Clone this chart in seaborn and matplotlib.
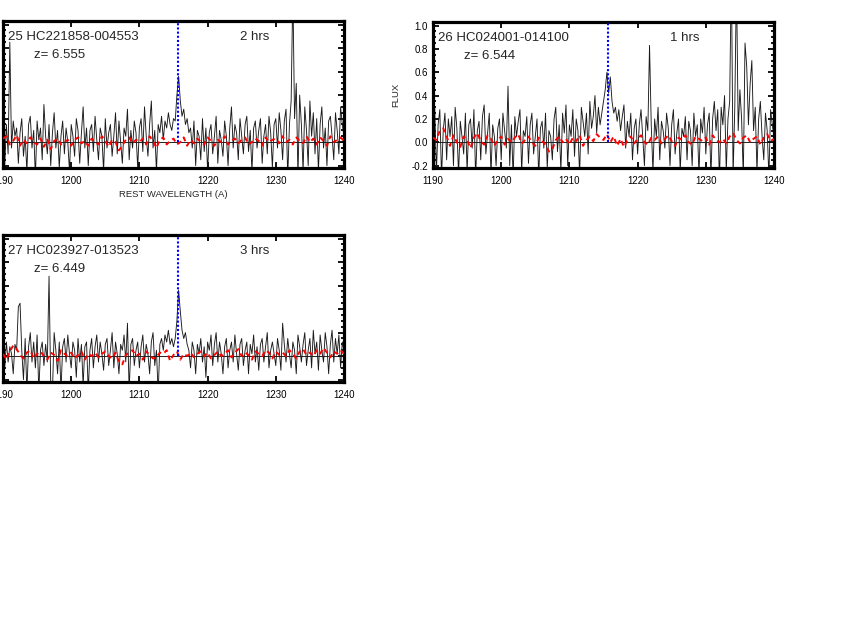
import numpy as np
import pandas as pd
import matplotlib
matplotlib.use("Agg")
import matplotlib.pyplot as plt
from matplotlib.ticker import MultipleLocator
import seaborn as sns

sns.set_theme(style="ticks")
plt.rcParams["font.family"] = ["Liberation Sans", "DejaVu Sans"]

# rest wavelength grid (A), 0.25 A steps for flux, 0.5 A for noise
wave = np.arange(1190.0, 1240.001, 0.25)
wave_err = np.arange(1190.0, 1240.001, 0.5)
LYA = 1215.67

names = ["25 HC221858-004553", "26 HC024001-014100", "27 HC023927-013523"]
redshifts = ["z= 6.555", "z= 6.544", "z= 6.449"]
exposures = ["2 hrs", "1 hrs", "3 hrs"]

flux25 = [
    0.10, -0.20, 0.15, -0.10, 0.85, -0.05, 0.18, 0.05, 0.12, -0.18,
    0.08, 0.20, -0.12, 0.05, -0.25, 0.15, 0.22, -0.05, 0.10, -0.30,
    0.18, 0.02, 0.12, -0.15, 0.32, 0.05, -0.10, 0.15, -0.20, 0.08,
    0.25, -0.05, 0.10, -0.22, 0.05, 0.18, -0.10, 0.12, 0.00, -0.25,
    0.15, 0.05, -0.12, 0.20, 0.10, -0.18, 0.08, 0.30, -0.05, 0.12,
    -0.20, 0.10, 0.15, -0.08, 0.22, 0.02, -0.15, 0.12, 0.05, -0.25,
    0.20, -0.05, 0.08, 0.15, -0.12, 0.05, 0.25, -0.10, 0.18, 0.00,
    -0.18, 0.12, 0.05, 0.28, -0.15, 0.10, -0.05, 0.18, 0.08, -0.22,
    0.12, 0.20, -0.08, 0.30, 0.05, -0.12, 0.15, 0.35, -0.05, 0.10,
    -0.25, 0.15, 0.08, 0.22, 0.02, 0.18, 0.12, 0.25, 0.15, 0.10,
    0.20, 0.18, 0.40, 0.56, 0.35, 0.22, 0.28, 0.15, 0.20, 0.08,
    0.12, -0.05, 0.18, -0.20, 0.10, 0.05, -0.15, 0.20, -0.08, 0.12,
    -0.25, 0.08, 0.15, -0.10, 0.05, 0.22, -0.18, 0.10, 0.02, -0.12,
    0.18, 0.05, -0.20, 0.12, 0.30, -0.05, 0.15, 0.08, -0.15, 0.20,
    0.05, -0.10, 0.15, 0.22, -0.08, 0.10, -0.25, 0.12, 0.18, -0.05,
    0.10, 0.20, -0.18, 0.05, 0.15, -0.10, 0.22, 0.08, -0.22, 0.15,
    0.20, -0.05, 0.25, 0.10, -0.15, 0.18, 0.28, -0.30, 0.15, 0.35,
    1.30, 0.20, 0.50, -0.30, 0.40, 0.15, -0.25, 0.30, 0.10, -0.20,
    0.35, 0.05, 0.25, -0.10, 0.20, -0.25, 0.15, 0.30, -0.05, 0.12,
    -0.20, 0.18, 0.22, 0.05, -0.15, 0.25, 0.10, -0.10, 0.30, 0.15,
    0.05,
]

flux26 = [
    0.05, 0.30, -0.25, 0.15, 0.28, -0.30, 0.10, 0.25, -0.15, 0.20,
    0.05, 0.22, -0.20, 0.30, 0.12, -0.28, 0.18, 0.05, -0.10, 0.25,
    -0.25, 0.15, 0.20, -0.05, 0.28, -0.30, 0.10, 0.18, -0.15, 0.22,
    0.32, -0.10, 0.08, 0.25, -0.28, 0.15, 0.05, -0.20, 0.12, 0.20,
    -0.15, 0.25, 0.10, -0.05, 0.48, -0.20, 0.15, -0.30, 0.22, 0.05,
    0.18, 0.28, -0.25, 0.10, 0.05, 0.22, -0.18, 0.15, 0.25, -0.10,
    0.05, 0.20, -0.30, 0.12, 0.18, -0.05, 0.25, -0.22, 0.10, 0.05,
    -0.15, 0.20, 0.30, -0.08, 0.15, -0.25, 0.25, 0.08, 0.32, -0.20,
    0.15, 0.05, 0.28, -0.12, 0.20, 0.10, -0.28, 0.30, 0.18, 0.05,
    0.25, -0.10, 0.35, 0.12, 0.22, 0.40, 0.08, 0.30, 0.15, 0.25,
    0.35, 0.45, 0.60, 0.42, 0.56, 0.35, 0.25, 0.30, 0.18, 0.28,
    0.10, 0.22, 0.32, -0.05, 0.18, 0.05, 0.25, -0.15, 0.12, 0.20,
    -0.10, 0.15, 0.28, 0.05, -0.20, 0.22, 0.10, 0.83, 0.15, -0.25,
    0.20, 0.05, 0.30, -0.15, 0.18, 0.10, -0.05, 0.25, 0.12, -0.20,
    0.15, 0.28, -0.10, 0.08, 0.20, -0.25, 0.12, 0.05, 0.22, -0.15,
    0.18, 0.10, -0.20, 0.25, 0.05, 0.15, -0.28, 0.20, 0.08, 0.30,
    -0.10, 0.15, 0.25, -0.30, 0.20, 0.35, 0.10, 0.28, -0.35, 0.30,
    0.15, 0.40, -0.25, 0.20, 0.35, 1.50, -0.30, 0.30, 1.40, 0.10,
    0.45, 0.20, -0.30, 0.85, 0.65, 0.15, 0.50, 0.70, 0.10, 0.30,
    -0.25, 0.20, 0.35, 0.05, -0.15, 0.25, 0.10, -0.30, 0.28, 0.15,
    0.05,
]

flux27 = [
    0.05, -0.10, 0.12, -0.05, 0.08, 0.02, -0.15, 0.10, 0.05, 0.42,
    0.45, 0.05, -0.20, 0.15, -0.30, 0.08, 0.20, -0.05, 0.12, -0.10,
    0.18, -0.30, 0.05, 0.12, -0.08, 0.10, -0.05, 0.68, -0.25, -0.30,
    0.20, 0.05, -0.15, 0.12, -0.30, 0.08, 0.15, -0.05, 0.18, 0.02,
    -0.10, 0.12, 0.05, -0.18, 0.15, -0.05, 0.10, -0.25, 0.08, 0.12,
    -0.30, 0.05, 0.15, -0.10, 0.08, 0.18, -0.05, 0.12, 0.02, -0.12,
    0.10, 0.15, -0.08, 0.05, 0.20, -0.10, 0.12, 0.02, -0.15, 0.10,
    0.05, 0.18, -0.05, 0.28, -0.30, 0.10, 0.15, -0.08, 0.05, 0.12,
    -0.10, 0.08, 0.18, -0.05, 0.10, 0.02, -0.15, 0.12, 0.20, -0.08,
    0.05, -0.32, 0.10, 0.15, 0.05, 0.18, 0.12, 0.22, 0.10, 0.15,
    0.08, 0.15, 0.30, 0.56, 0.38, 0.22, 0.15, 0.20, 0.10, 0.05,
    -0.10, 0.12, 0.05, -0.15, 0.10, 0.02, 0.15, -0.05, 0.08, -0.18,
    0.12, 0.05, 0.18, -0.08, 0.10, 0.20, -0.05, 0.12, 0.02, -0.15,
    0.08, 0.15, -0.10, 0.05, 0.12, -0.05, 0.18, 0.02, -0.12, 0.10,
    0.15, -0.08, 0.05, 0.12, -0.15, 0.10, 0.02, 0.18, -0.05, 0.08,
    -0.12, 0.10, 0.15, -0.05, 0.08, 0.20, -0.10, 0.05, 0.12, 0.02,
    -0.08, 0.15, 0.05, -0.12, 0.28, 0.10, -0.05, 0.15, 0.02, -0.10,
    0.12, 0.05, -0.15, 0.18, 0.08, -0.05, 0.10, 0.20, -0.08, 0.05,
    0.15, -0.10, 0.22, 0.02, 0.12, -0.12, 0.18, 0.05, -0.05, 0.20,
    0.08, -0.15, 0.10, 0.22, -0.05, 0.15, 0.02, 0.18, -0.10, 0.12,
    0.05,
]

# red dashed noise spectra
err25 = [
    0.03, 0.05, -0.02, 0.01, 0.06, -0.03, 0.02, -0.01, 0.04, 0.00,
    -0.02, 0.03, -0.04, 0.02, -0.06, 0.01, 0.03, -0.02, 0.00, 0.02,
    -0.03, 0.02, 0.04, -0.01, 0.01, -0.03, 0.03, 0.00, -0.02, 0.05,
    0.01, -0.04, 0.02, 0.00, -0.07, -0.03, 0.02, 0.04, -0.01, 0.02,
    0.00, 0.03, -0.02, 0.05, 0.01, -0.05, 0.02, 0.04, -0.02, 0.01,
    0.03, -0.02, 0.00, 0.04, -0.03, 0.02, -0.01, 0.03, 0.00, -0.02,
    0.04, 0.01, -0.03, 0.02, 0.00, 0.05, -0.02, 0.01, 0.03, -0.01,
    0.02, 0.04, -0.02, 0.00, 0.03, 0.01, -0.03, 0.04, 0.00, 0.02,
    0.03, -0.01, 0.05, 0.00, 0.02, -0.02, 0.04, 0.01, -0.01, 0.05,
    0.00, 0.03, -0.02, 0.04, 0.01, -0.03, 0.05, 0.00, 0.02, 0.04,
    0.01,
]
err26 = [
    0.04, 0.02, 0.10, 0.12, 0.05, -0.03, 0.06, 0.00, -0.04, 0.05,
    0.02, -0.05, 0.04, 0.08, 0.01, -0.02, 0.06, 0.03, -0.03, 0.02,
    0.05, -0.02, 0.03, 0.00, 0.04, 0.07, -0.01, 0.02, 0.05, 0.00,
    -0.03, 0.04, 0.01, -0.02, -0.08, -0.06, 0.02, 0.05, 0.00, 0.03,
    -0.02, 0.04, 0.01, 0.06, -0.03, 0.02, 0.05, 0.01, 0.07, 0.04,
    0.02, 0.07, 0.00, 0.05, -0.03, 0.03, -0.04, 0.02, 0.05, -0.01,
    0.03, 0.06, 0.00, -0.02, 0.04, 0.02, 0.05, -0.01, 0.03, 0.06,
    0.01, -0.03, 0.04, 0.02, 0.06, 0.00, -0.02, 0.05, 0.03, 0.01,
    0.04, -0.02, 0.06, 0.02, 0.00, 0.03, -0.01, 0.05, 0.08, 0.02,
    -0.01, 0.04, 0.06, 0.00, 0.03, 0.05, -0.02, 0.04, 0.07, 0.01,
    0.03,
]
err27 = [
    0.02, -0.03, 0.04, 0.09, 0.06, 0.01, -0.02, 0.03, 0.05, -0.02,
    0.02, 0.04, 0.00, -0.03, 0.03, 0.01, -0.04, 0.05, 0.02, 0.00,
    0.03, -0.02, 0.01, 0.04, -0.03, 0.02, 0.00, 0.03, -0.01, 0.02,
    0.04, 0.00, -0.02, 0.03, -0.05, -0.07, 0.01, 0.03, 0.05, 0.00,
    0.02, -0.03, 0.04, 0.01, -0.02, -0.01, 0.03, 0.02, 0.05, -0.04,
    0.01, 0.04, -0.03, 0.02, 0.00, 0.03, -0.01, 0.02, 0.04, 0.00,
    0.03, -0.02, 0.01, 0.04, 0.00, 0.02, 0.05, -0.01, 0.03, 0.06,
    0.00, 0.03, 0.01, -0.03, 0.04, 0.02, 0.00, 0.05, 0.03, -0.02,
    0.04, 0.01, 0.03, 0.00, 0.05, 0.02, -0.02, 0.04, 0.06, 0.01,
    0.03, 0.00, 0.05, 0.02, 0.07, 0.03, -0.01, 0.04, 0.02, 0.05,
    0.02,
]

fluxes = [flux25, flux26, flux27]
errors = [err25, err26, err27]

W, H = 864, 637
fig = plt.figure(figsize=(W / 100, H / 100), dpi=100)

# panel boxes in pixels: left, top, right, bottom (left panels run off the page)
boxes = [(3, 21, 344, 168), (433, 22, 774, 168), (3, 235, 344, 382)]

for i, (l, t, r, b) in enumerate(boxes):
    ax = fig.add_axes([l / W, 1 - b / H, (r - l) / W, (b - t) / H])
    ax.set_facecolor("white")
    ax.axhline(0, color="black", lw=0.6, zorder=1)
    sns.lineplot(x=wave, y=fluxes[i], ax=ax, color="#1a1a1a", lw=0.65,
                 estimator=None, sort=False, zorder=2)
    sns.lineplot(x=wave_err, y=errors[i], ax=ax, color="red", lw=1.4,
                 linestyle=(0, (2.5, 2)), estimator=None, sort=False, zorder=3)
    ax.set_xlim(1190, 1240)
    ax.set_ylim(-0.22, 1.03)
    ax.vlines(LYA, 0, 1.03, color="blue", lw=1.5, linestyles=(0, (1, 1)), zorder=4)

    ax.text(1190.7, 0.89, names[i], fontsize=9.5, va="center")
    ax.text(1194.5, 0.74, redshifts[i], fontsize=9.5, va="center")
    ax.text(1224.8, 0.89, exposures[i], fontsize=9.5, va="center")

    ax.xaxis.set_major_locator(MultipleLocator(10))
    ax.yaxis.set_minor_locator(MultipleLocator(0.05))
    ax.tick_params(which="both", direction="in", top=True, right=True,
                   labelsize=7, colors="black", width=1.3)
    ax.tick_params(which="major", length=4)
    ax.tick_params(which="minor", length=2.2)
    ax.tick_params(axis="x", pad=6)
    ax.set_yticks([-0.2, 0.0, 0.2, 0.4, 0.6, 0.8, 1.0])
    ax.set_yticklabels(["-0.2", "0.0", "0.2", "0.4", "0.6", "0.8", "1.0"])
    for sp in ax.spines.values():
        sp.set_linewidth(2.3)
        sp.set_color("black")
    ax.set_xlabel("")
    ax.set_ylabel("")
    if i != 1:
        # these labels sit left of the page edge in the original
        ax.tick_params(axis="y", labelleft=False)
    if i == 0:
        ax.set_xlabel("REST WAVELENGTH (A)", fontsize=6.8, labelpad=3)
    if i == 1:
        ax.set_ylabel("FLUX", fontsize=6.8, labelpad=8)

fig.savefig("out.png", dpi=100, facecolor="white")
